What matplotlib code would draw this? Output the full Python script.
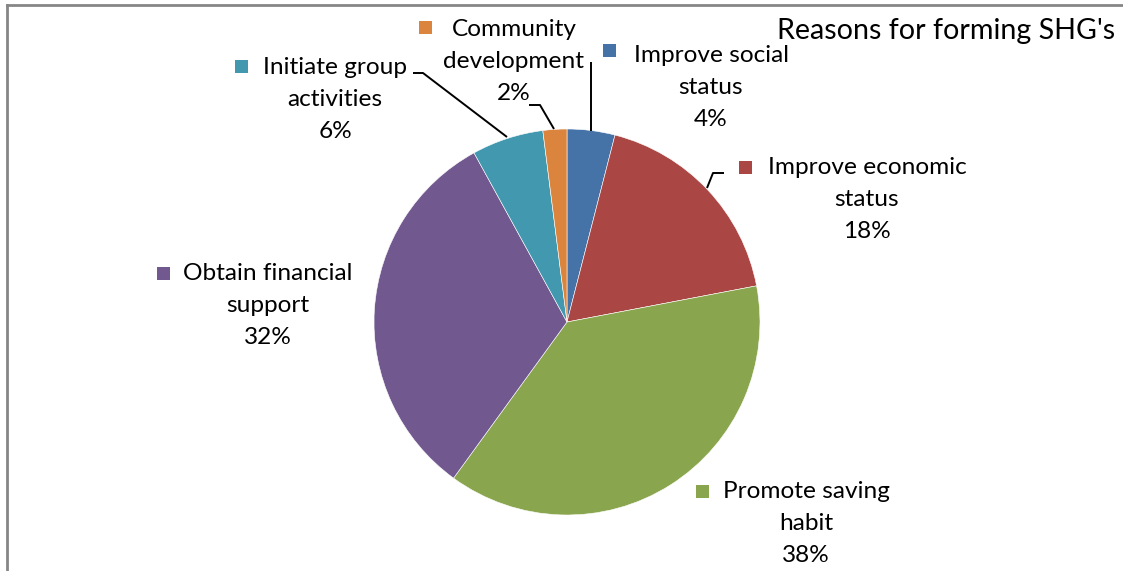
import matplotlib
matplotlib.use("Agg")
import matplotlib.pyplot as plt
from matplotlib.patches import Rectangle
from matplotlib.lines import Line2D

# ---- data ----
categories = ["Improve social status", "Improve economic status", "Promote saving habit",
              "Obtain financial support", "Initiate group activities", "Community development"]
values = [4, 18, 38, 32, 6, 2]
label_lines = [["Improve social", "status"],
               ["Improve economic", "status"],
               ["Promote saving", "habit"],
               ["Obtain financial", "support"],
               ["Initiate group", "activities"],
               ["Community", "development"]]
title = "Reasons for forming SHG's"

# ---- styles / layout ----
colors = ["#4572A7", "#AA4643", "#89A54E", "#71588F", "#4198AF", "#DB843D"]
W, H = 1123, 571
FONT = "Lato"
FS = 17.6

# label layout in pixel coords: text centre x, first line y, square centre x, square centre y
label_layout = [
    (711, 55, 609, 50),
    (867, 167, 745, 167),
    (806, 491, 702, 491),
    (268, 273, 163, 273),
    (335, 67, 241, 66),
    (514, 29, 425, 27),
]
line_gap = 32
leaders = [
    [(591, 131), (591, 62)],
    [(707, 188), (713, 173), (724, 173)],
    None,
    None,
    [(507, 137), (423, 73), (413, 73)],
    [(554, 129), (540, 105), (529, 105)],
]

fig = plt.figure(figsize=(W / 100, H / 100), dpi=100)
ax = fig.add_axes([0, 0, 1, 1])


def py(y):
    return H - y


cx, cy, r = 567, 322, 193
ax.pie(values, colors=colors, startangle=90, counterclock=False,
       center=(cx, py(cy)), radius=r, frame=True,
       wedgeprops=dict(linewidth=0.4, edgecolor="white"))
ax.set_xlim(0, W)
ax.set_ylim(0, H)
ax.set_aspect("equal")
ax.axis("off")

total = sum(values)
for lines, v, col, (tx, ty, sx, sy), lead in zip(label_lines, values, colors, label_layout, leaders):
    texts = lines + [f"{round(100 * v / total)}%"]
    for i, t in enumerate(texts):
        ax.text(tx, py(ty + i * line_gap), t, ha="center", va="center",
                fontsize=FS, family=FONT, color="black")
    s = 13
    ax.add_patch(Rectangle((sx - s / 2, py(sy) - s / 2), s, s, facecolor=col, edgecolor="none"))
    if lead:
        xs = [p[0] for p in lead]
        ys = [py(p[1]) for p in lead]
        ax.plot(xs, ys, color="black", lw=1.4, solid_capstyle="butt")

ax.text(946, py(31), title, ha="center", va="center", fontsize=20.6, family=FONT, color="black")

# frame (partially cut off at right/bottom)
fig.add_artist(Line2D([6.5 / W, 6.5 / W], [0, 1 - 4.5 / H], color="#868686", lw=2))
fig.add_artist(Line2D([6.5 / W, 1], [1 - 4.5 / H, 1 - 4.5 / H], color="#868686", lw=2))

fig.savefig("out.png", dpi=100, facecolor="white")
